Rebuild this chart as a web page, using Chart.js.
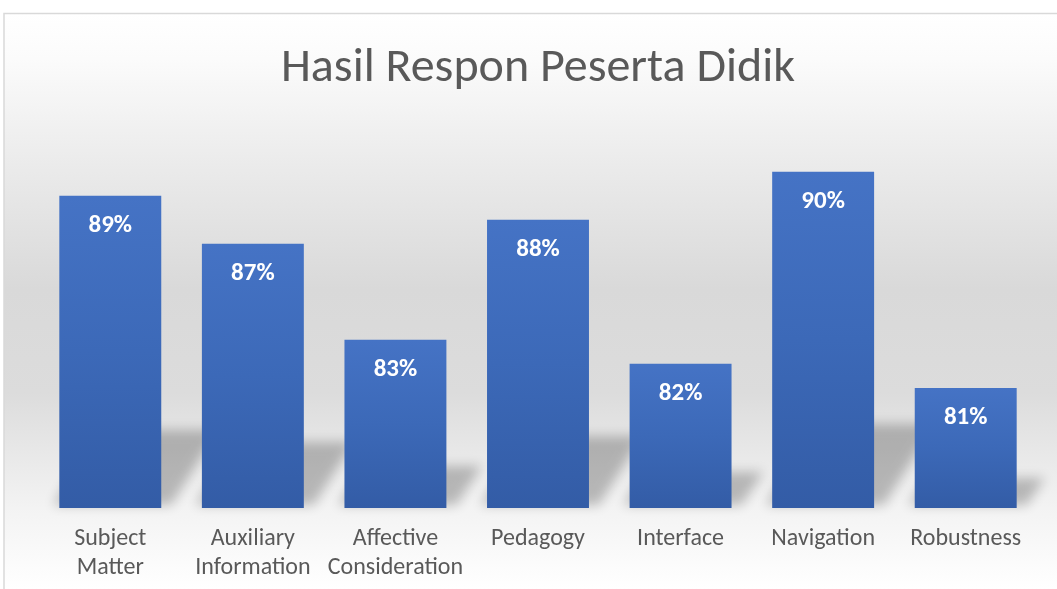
<!DOCTYPE html>
<html>
<head>
<meta charset="utf-8">
<script src="https://cdn.jsdelivr.net/npm/chart.js@4"></script>
<style>
  html, body { margin: 0; padding: 0; background: #fff; }
  #wrap { width: 1057px; height: 589px; position: relative; }
</style>
</head>
<body>
<div id="wrap"><canvas id="responChart" width="1057" height="589"></canvas></div>
<script>
// Chart data
const categories = [
    ['Subject', 'Matter'],
    ['Auxiliary', 'Information'],
    ['Affective', 'Consideration'],
    'Pedagogy',
    'Interface',
    'Navigation',
    'Robustness'
];
const responValues = [0.89, 0.87, 0.83, 0.88, 0.82, 0.90, 0.81];
const axisMin = 0.76;
const axisMax = 0.92;

const FONT = 'Carlito, Lato, "Open Sans", sans-serif';

// Background with soft grey gradient and thin frame
const backgroundPlugin = {
    id: 'background',
    beforeDraw(chart) {
        const ctx = chart.ctx;
        const w = chart.width, h = chart.height;
        ctx.save();
        ctx.fillStyle = '#ffffff';
        ctx.fillRect(0, 0, w, h);
        const grad = ctx.createLinearGradient(0, 13, 0, h);
        grad.addColorStop(0, '#ffffff');
        grad.addColorStop(0.08, '#fbfbfb');
        grad.addColorStop(0.25, '#ececec');
        grad.addColorStop(0.48, '#d9d9d9');
        grad.addColorStop(0.66, '#dcdcdc');
        grad.addColorStop(0.86, '#f3f3f3');
        grad.addColorStop(1, '#ffffff');
        ctx.fillStyle = grad;
        ctx.fillRect(4, 13, w - 4, h - 13);
        ctx.strokeStyle = '#d9d9d9';
        ctx.lineWidth = 1.5;
        ctx.beginPath();
        ctx.moveTo(4, h);
        ctx.lineTo(4, 13.5);
        ctx.lineTo(w, 13.5);
        ctx.stroke();
        ctx.restore();
    }
};

// Perspective shadow behind each bar (shape drawn off-canvas, only its blurred shadow lands here)
const shadowPlugin = {
    id: 'barShadow',
    beforeDatasetsDraw(chart) {
        const ctx = chart.ctx;
        const meta = chart.getDatasetMeta(0);
        const base = chart.scales.y.getPixelForValue(axisMin);
        const off = 3000;
        ctx.save();
        ctx.fillStyle = '#000';
        ctx.shadowColor = 'rgba(0, 0, 0, 0.24)';
        ctx.shadowBlur = 12;
        ctx.shadowOffsetX = off;
        ctx.shadowOffsetY = 0;
        meta.data.forEach(function(bar) {
            const x0 = bar.x - bar.width / 2 - off;
            const x1 = bar.x + bar.width / 2 - off;
            const h = (base - bar.y) * 0.25;
            const s = h * 0.6;
            ctx.beginPath();
            ctx.moveTo(x0 - 6, base - 3);
            ctx.lineTo(x1 + 10, base - 3);
            ctx.lineTo(x1 + 10 + s, base - h);
            ctx.lineTo(x0 - 6 + s, base - h);
            ctx.closePath();
            ctx.fill();
        });
        ctx.restore();
    }
};

// White percentage labels inside the bars
const valueLabelPlugin = {
    id: 'valueLabels',
    afterDatasetsDraw(chart) {
        const ctx = chart.ctx;
        const meta = chart.getDatasetMeta(0);
        ctx.save();
        ctx.fillStyle = '#ffffff';
        ctx.font = 'bold 25px ' + FONT;
        ctx.textAlign = 'center';
        ctx.textBaseline = 'middle';
        meta.data.forEach(function(bar, i) {
            const label = Math.round(responValues[i] * 100) + '%';
            ctx.fillText(label, bar.x, bar.y + 30);
        });
        ctx.restore();
    }
};

// Gradient for each bar, from its top to the baseline
function barGradient(context) {
    const chart = context.chart;
    const yScale = chart.scales.y;
    if (!yScale || !chart.chartArea) {
        return '#4472C4';
    }
    const top = yScale.getPixelForValue(responValues[context.dataIndex]);
    const bottom = yScale.getPixelForValue(axisMin);
    const grad = chart.ctx.createLinearGradient(0, top, 0, bottom);
    grad.addColorStop(0, '#4573c5');
    grad.addColorStop(0.5, '#3c69b8');
    grad.addColorStop(1, '#335ca6');
    return grad;
}

const ctx = document.getElementById('responChart').getContext('2d');
const responChart = new Chart(ctx, {
    type: 'bar',
    data: {
        labels: categories,
        datasets: [{
            label: 'Hasil Respon',
            data: responValues,
            backgroundColor: barGradient,
            borderWidth: 0,
            barPercentage: 0.715,
            categoryPercentage: 1.0
        }]
    },
    options: {
        responsive: false,
        animation: false,
        events: [],
        layout: {
            padding: { top: 0, right: 20, bottom: 0, left: 39 }
        },
        scales: {
            y: {
                display: false,
                min: axisMin,
                max: axisMax
            },
            x: {
                grid: { display: false, drawTicks: false },
                border: { display: false },
                ticks: {
                    color: '#595959',
                    padding: 17,
                    maxRotation: 0,
                    autoSkip: false,
                    font: { family: FONT, size: 24, lineHeight: 1.2 }
                },
                afterFit: function(scale) {
                    scale.height = 81;
                }
            }
        },
        plugins: {
            legend: { display: false },
            tooltip: { enabled: false },
            title: {
                display: true,
                text: 'Hasil Respon Peserta Didik',
                color: '#595959',
                font: { family: FONT, size: 48, weight: 'normal', lineHeight: 1.2 },
                padding: { top: 40, bottom: 26 }
            }
        }
    },
    plugins: [backgroundPlugin, shadowPlugin, valueLabelPlugin]
});
</script>
</body>
</html>
